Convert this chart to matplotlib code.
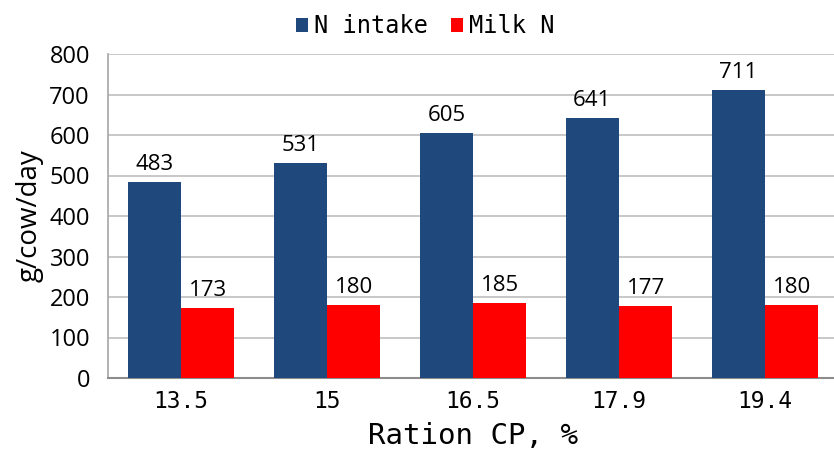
import matplotlib.pyplot as plt
import numpy as np

categories = ['13.5', '15', '16.5', '17.9', '19.4']
n_intake = [483, 531, 605, 641, 711]
milk_n = [173, 180, 185, 177, 180]

blue = '#1F497D'
red = '#FF0000'

fig = plt.figure(figsize=(8.34, 4.55), dpi=100)
ax = fig.add_axes([108/834, 1 - 378/455, (838-108)/834, (378-54)/455])

x = np.arange(len(categories))
w = 0.365
b1 = ax.bar(x - w/2, n_intake, w, color=blue, label='N intake', zorder=3)
b2 = ax.bar(x + w/2, milk_n, w, color=red, label='Milk N', zorder=3)

for bars in (b1, b2):
    ax.bar_label(bars, padding=5, fontsize=16, family='Open Sans')

ax.set_xlim(-0.5, len(categories) - 0.5)
ax.set_ylim(0, 800)
ax.set_yticks(range(0, 801, 100))
ax.yaxis.grid(True, color='#BFBFBF', linewidth=1.2, zorder=0)
ax.set_axisbelow(True)
ax.set_xticks(x)
ax.set_xticklabels(categories, family='DejaVu Sans Mono', fontsize=16.5)
for lab in ax.get_yticklabels():
    lab.set_family('Open Sans')
    lab.set_fontsize(17)
ax.tick_params(axis='y', length=0, pad=13)
ax.tick_params(axis='x', length=0, pad=9)

for s in ('top', 'right'):
    ax.spines[s].set_visible(False)
ax.spines['left'].set_color('#A6A6A6')
ax.spines['bottom'].set_color('#8C8C8C')
ax.spines['left'].set_linewidth(1.2)
ax.spines['bottom'].set_linewidth(1.5)

ax.set_ylabel('g/cow/day', family='Open Sans', fontsize=20, labelpad=4)
ax.set_xlabel('Ration CP, %', family='DejaVu Sans Mono', fontsize=21, labelpad=6)

fig.legend(loc='upper center', bbox_to_anchor=(0.51, 1.015), ncol=2, frameon=False,
           prop={'family': 'DejaVu Sans Mono', 'size': 17}, handlelength=0.5, handleheight=0.5,
           handletextpad=0.25, columnspacing=1.0)

fig.savefig('out.png', dpi=100)
